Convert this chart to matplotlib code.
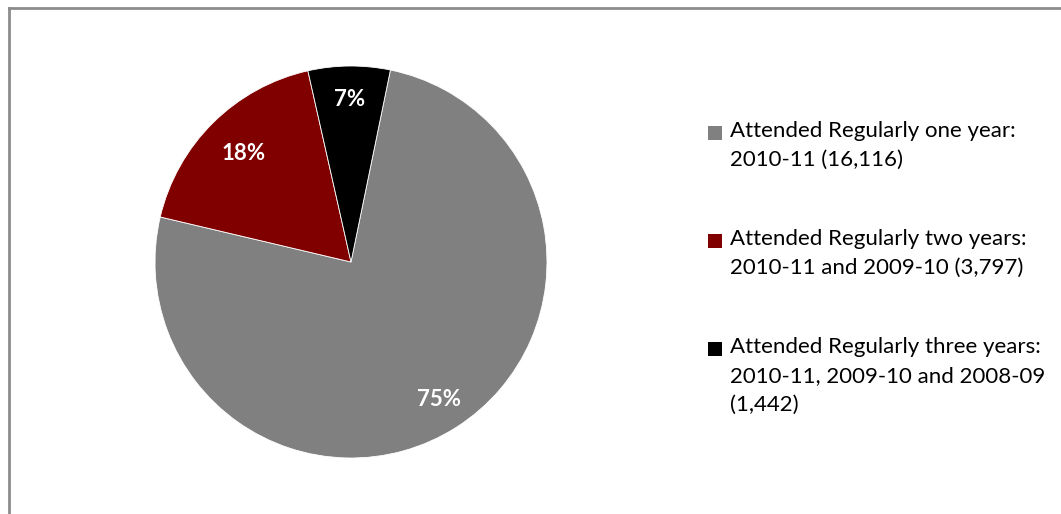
import matplotlib.pyplot as plt
from matplotlib.lines import Line2D
from matplotlib.patches import Rectangle

labels = ['Attended Regularly one year:\n2010-11 (16,116)',
          'Attended Regularly two years:\n2010-11 and 2009-10 (3,797)',
          'Attended Regularly three years:\n2010-11, 2009-10 and 2008-09\n(1,442)']
counts = [16116, 3797, 1442]
colors = ['#808080', '#800000', '#000000']

plt.rcParams['font.family'] = ['Lato', 'DejaVu Sans']

fig = plt.figure(figsize=(10.61, 5.14), dpi=100)
W, H = 1061, 514

# chart border (only top and left visible in the crop)
fig.add_artist(Line2D([9/W, 9/W], [0, 1 - 8/H], color='#8c8c8c', lw=2))
fig.add_artist(Line2D([9/W, 1], [1 - 8/H, 1 - 8/H], color='#8c8c8c', lw=2))

cx, cy, r = 351, 262, 196
ax = fig.add_axes([(cx - r)/W, (H - cy - r)/H, 2*r/W, 2*r/H])
wedges, texts, autotexts = ax.pie(counts, colors=colors, startangle=78.4,
                                  counterclock=False, autopct='%1.0f%%',
                                  pctdistance=0.83,
                                  wedgeprops=dict(linewidth=0.6, edgecolor='white'),
                                  textprops=dict(color='white', fontweight='bold', fontsize=16))
# Excel's best-fit pulls the 18% label a little further in
px, py = autotexts[1].get_position()
autotexts[1].set_position((px * 0.78 / 0.83, py * 0.78 / 0.83))
ax.set_xlim(-1, 1)
ax.set_ylim(-1, 1)
ax.set_aspect('equal')
ax.axis('off')

# legend, handle aligned with first line of each entry
first_line_y = [133, 241, 349]
for w, lab, y in zip(wedges, labels, first_line_y):
    fig.add_artist(Rectangle((708/W, 1 - (y + 7)/H), 14/W, 14/H,
                             facecolor=w.get_facecolor(), edgecolor='none',
                             transform=fig.transFigure))
    fig.text(730/W, 1 - (y - 12)/H, lab, fontsize=16, va='top', ha='left',
             linespacing=1.55, color='black')

fig.savefig('out.png', dpi=100)
